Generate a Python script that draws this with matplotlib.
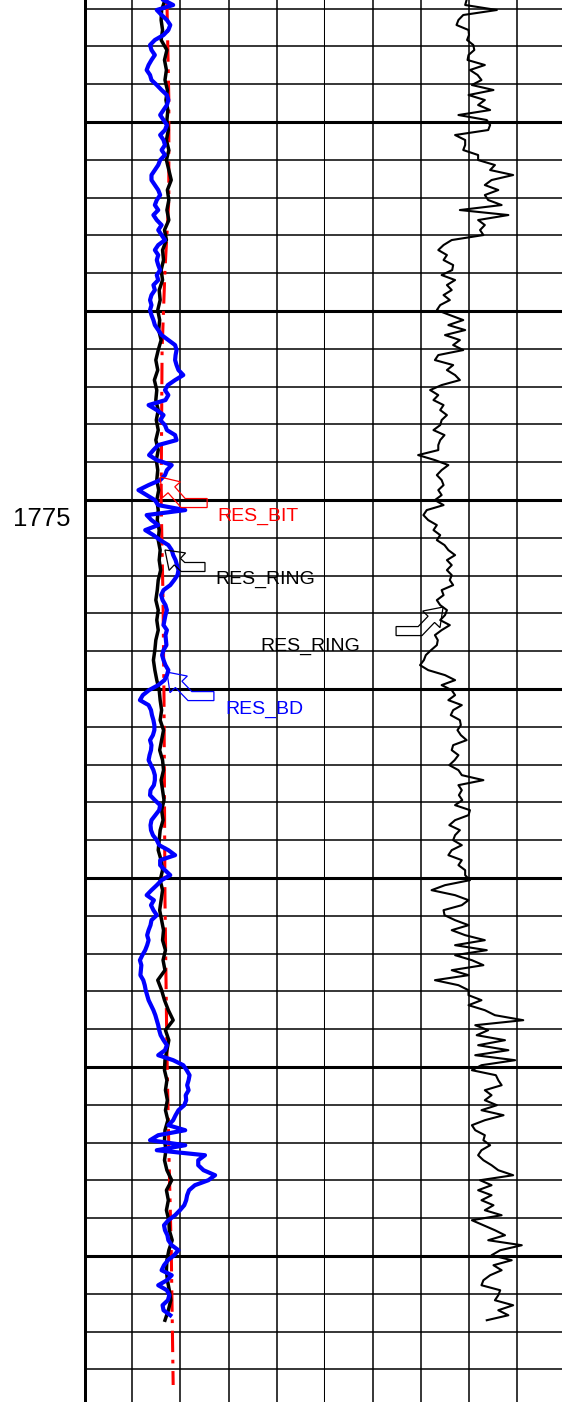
import numpy as np
import matplotlib
matplotlib.use("Agg")
import matplotlib.pyplot as plt
from matplotlib.patches import Polygon
from matplotlib import transforms as mtransforms

plt.rcParams["font.family"] = ["Liberation Sans", "DejaVu Sans"]

# depth window of the print (m) and log sampling
TOP_DEPTH = 1761.77
BOTTOM_DEPTH = 1798.86
SAMPLE_STEP = 0.1323
DEPTH_LABEL = 1775

# track 1: bit resistivity (dash-dot), ring resistivity, deep button resistivity
RES_BD = [
    16.5, 18.5, 15.1, 16.1, 17.2, 17.9, 17.5, 16.5, 14.7, 13.7,
    14.0, 14.7, 14.0, 13.4, 13.0, 13.7, 14.0, 15.1, 16.1, 17.2,
    17.5, 17.2, 16.5, 15.8, 16.5, 17.2, 16.8, 15.8, 16.5, 16.8,
    16.1, 16.8, 15.8, 15.4, 14.7, 14.0, 14.0, 14.7, 15.4, 15.8,
    15.1, 14.7, 15.4, 14.4, 15.1, 16.1, 15.4, 16.1, 16.8, 15.4,
    14.7, 15.4, 15.1, 15.4, 15.8, 15.1, 15.4, 14.4, 14.7, 14.0,
    13.7, 14.0, 13.7, 14.0, 14.4, 14.7, 15.4, 16.1, 17.5, 18.9,
    19.2, 19.0, 18.9, 19.2, 19.6, 20.6, 18.9, 17.4, 16.8, 17.5,
    16.9, 13.4, 15.1, 16.5, 15.8, 16.8, 17.2, 18.9, 19.2, 15.4,
    14.4, 13.5, 15.1, 18.2, 17.2, 16.8, 15.8, 13.4, 11.3, 13.0,
    14.7, 15.4, 21.0, 13.0, 14.0, 15.4, 12.7, 14.4, 15.8, 17.5,
    18.2, 18.5, 19.0, 19.3, 19.6, 19.4, 18.7, 17.9, 16.5, 16.0,
    16.3, 16.9, 17.2, 16.9, 16.7, 16.5, 17.2, 16.9, 17.0, 17.1,
    16.5, 16.2, 16.5, 16.9, 17.5, 17.2, 16.7, 15.4, 13.5, 12.2,
    11.6, 13.4, 13.9, 14.1, 14.4, 14.6, 14.6, 14.3, 13.7, 14.0,
    13.9, 13.6, 13.4, 13.9, 14.4, 14.7, 14.7, 14.5, 13.8, 13.7,
    14.7, 15.8, 15.6, 14.8, 14.0, 13.8, 13.9, 14.3, 15.1, 15.6,
    17.5, 18.9, 15.8, 15.8, 16.8, 17.9, 16.1, 15.1, 14.0, 13.0,
    14.5, 13.9, 14.4, 15.1, 14.0, 13.8, 13.4, 13.1, 13.4, 13.1,
    12.7, 12.1, 11.6, 11.9, 11.8, 11.7, 12.3, 12.6, 12.8, 13.1,
    13.4, 13.9, 14.4, 14.8, 15.1, 15.4, 15.6, 15.9, 16.5, 17.2,
    16.8, 15.4, 18.5, 20.6, 21.3, 21.9, 21.7, 21.4, 21.7, 21.1,
    21.2, 20.8, 19.6, 19.0, 18.5, 17.5, 21.0, 15.4, 13.7, 21.0,
    15.1, 25.1, 23.7, 23.7, 24.8, 27.2, 25.8, 23.0, 21.8, 21.4,
    21.2, 20.8, 19.9, 18.9, 17.5, 16.6, 16.8, 17.3, 17.5, 18.2,
    19.6, 18.7, 17.4, 16.6, 16.1, 18.2, 17.2, 15.4, 17.2, 17.7,
    17.4, 16.3, 16.5, 17.9,
]

RES_RING = [
    16.8, 16.1, 16.0, 16.3, 16.0, 17.2, 16.7, 17.1, 16.8, 17.3,
    17.0, 17.4, 17.2, 17.5, 17.1, 17.6, 17.1, 17.6, 18.1, 17.3,
    17.6, 17.2, 17.6, 16.7, 17.1, 16.3, 16.5, 16.0, 16.3, 15.6,
    15.8, 15.3, 15.7, 15.5, 16.0,
    15.4, 14.9, 15.3, 14.6, 15.1, 14.9, 15.4, 15.0, 15.4, 14.9,
    15.4, 15.0, 15.3, 15.1, 15.5, 15.1, 15.4, 15.2, 15.6, 15.4,
    15.8, 15.6, 15.9, 15.4, 15.2, 14.9, 15.4, 15.1, 15.4, 14.9,
    14.7, 14.4, 14.7, 15.1, 15.6,
    15.8, 16.1, 15.8, 16.5, 16.1, 15.7, 16.3, 16.5, 16.0, 16.3,
    16.6, 16.1, 16.4, 15.8, 15.6, 15.4, 16.0, 16.3, 15.8, 16.3,
    16.0, 15.7, 16.1, 16.5, 16.3, 16.9, 16.4, 16.8, 15.3, 16.1,
    16.7, 17.5, 18.5, 16.9, 17.6,
    17.2, 16.8, 16.7, 17.2, 16.9, 17.3, 16.9, 17.4, 16.8, 16.7,
    17.0, 16.7, 17.2, 18.2, 17.1, 17.5, 17.1, 17.6, 17.7, 18.3,
    17.6, 17.2, 17.1, 17.3, 17.7, 18.0, 17.5, 16.8,
]
RING_STEP = 2 * SAMPLE_STEP

RES_BIT_DEPTH = [1761.77, 1764.42, 1767.06, 1768.91, 1771.03, 1775.0, 1777.64,
                 1780.29, 1785.58, 1789.55, 1792.19, 1794.84, 1798.41]
RES_BIT = [17.2, 17.6, 17.6, 16.8, 16.2, 16.0, 16.4, 16.6, 16.8, 17.2, 17.6, 18.1, 18.5]

# track 2: ring resistivity on its own scale
RES_RING_T2 = [
    29.5, 29.2, 35.8, 28.8, 27.8, 27.4, 29.9, 30.0, 29.6, 30.9,
    31.1, 29.9, 29.7, 33.3, 30.2, 31.8, 32.6, 30.6, 35.1, 29.9,
    33.3, 31.9, 34.4, 27.8, 33.7, 34.4, 34.0, 27.1, 29.2, 29.2,
    28.8, 31.9, 31.9, 35.4, 34.4, 39.2, 34.7, 33.3, 36.1, 33.3,
    34.0, 36.8, 28.1, 38.2, 31.9, 33.3, 32.3, 33.0, 26.4, 24.7,
    23.6, 25.4, 24.7, 26.7, 26.5, 24.3, 27.1, 25.4, 26.4, 24.7,
    26.0, 24.0, 23.3, 26.0, 28.8, 25.7, 29.2, 25.0, 28.1, 26.7,
    28.8, 23.6, 22.9, 26.7, 25.4, 27.1, 28.1, 24.3, 21.9, 23.6,
    22.6, 24.7, 24.0, 25.4, 24.3, 24.0, 22.6, 24.9, 24.0, 23.6,
    23.6, 19.4, 22.9, 25.7, 24.3, 23.3, 24.3, 24.7, 23.6, 24.3,
    22.9, 24.7, 21.2, 20.5, 21.5, 23.3, 22.6, 24.0, 23.3, 24.9,
    25.7, 27.1, 25.4, 26.4, 25.4, 26.4, 26.0, 26.7, 24.3, 24.7,
    23.3, 24.0, 25.4, 25.0, 24.0, 26.0, 24.3, 22.9, 23.5, 23.3,
    22.1, 21.0, 20.6, 19.8, 21.5, 25.0, 27.1, 24.3, 26.4, 27.1,
    25.7, 28.5, 26.7, 26.2, 28.1, 28.3, 27.6, 28.3, 29.5, 26.7,
    26.4, 27.8, 27.0, 25.9, 27.8, 28.5, 33.0, 27.8, 28.5, 27.9,
    28.6, 27.1, 30.2, 29.9, 27.1, 25.9, 28.1, 27.1, 26.7, 28.5,
    26.4, 25.7, 28.5, 27.8, 29.2, 29.2, 30.2, 25.0, 22.2, 27.1,
    29.9, 28.5, 24.7, 24.9, 27.1, 29.9, 26.4, 29.2, 33.3, 27.1,
    33.7, 27.1, 30.6, 33.0, 26.4, 29.9, 22.9, 27.8, 29.9, 29.9,
    32.6, 29.9, 33.3, 35.4, 41.3, 31.3, 34.0, 31.6, 37.5, 31.9,
    38.2, 31.3, 39.6, 32.6, 30.6, 35.6, 36.1, 36.8, 33.3, 34.7,
    33.3, 35.8, 32.6, 37.2, 33.3, 30.6, 31.3, 33.3, 33.0, 34.4,
    32.6, 31.9, 33.0, 34.7, 36.1, 39.2, 32.3, 34.7, 31.9, 34.7,
    32.6, 35.1, 33.3, 36.8, 30.6, 33.0, 35.4, 37.5, 34.0, 41.0,
    36.5, 34.7, 38.9, 35.1, 36.8, 34.4, 33.0, 32.6, 36.5, 36.1,
    35.4, 39.2, 36.1, 38.2, 33.7,
]

# curve name callouts: (text, track, tip value, tip depth, label value, label depth, colour, bend, tail)
CALLOUTS = [
    ("RES_BIT", 1, 15.8, 1774.39, 27.6, 1775.42, "#ff0000", (23, -26), (47, -26)),
    ("RES_RING", 1, 16.8, 1776.32, 27.2, 1777.11, "#000000", (18, -17), (40, -17)),
    ("RES_RING", 2, 24.6, 1777.83, -13.5, 1778.86, "#000000", (-23, -24), (-47, -24)),
    ("RES_BD", 1, 17.2, 1779.55, 29.3, 1780.55, "#0000ff", (23, -24), (47, -24)),
]


def block_arrow(ax, x, y, bend, tail, color, shaft=9.0, head=24.0, head_len=17.0):
    """Outlined bent block arrow, tip at data point (x, y), shape in pixels."""
    T = np.array([0.0, 0.0])
    E = np.array(bend, float)
    S = np.array(tail, float)
    d1 = (T - E) / np.linalg.norm(T - E)
    n1 = np.array([-d1[1], d1[0]])
    d2 = (E - S) / np.linalg.norm(E - S)
    n2 = np.array([-d2[1], d2[0]])
    B = T - d1 * head_len
    h = shaft / 2
    nb = (n1 + n2) / np.linalg.norm(n1 + n2)
    m = h / np.dot(nb, n1)
    pts = [T, B + n1 * head / 2, B + n1 * h, E + nb * m, S + n2 * h,
           S - n2 * h, E - nb * m, B - n1 * h, B - n1 * head / 2]
    fig = ax.figure
    tr = mtransforms.Affine2D().scale(fig.dpi / 100) + mtransforms.ScaledTranslation(x, y, ax.transData)
    poly = Polygon(pts, closed=True, fill=False, edgecolor=color, lw=0.9,
                   transform=tr, clip_on=False, zorder=6)
    ax.add_patch(poly)


fig = plt.figure(figsize=(5.62, 14.02), dpi=100)
ax1 = fig.add_axes([84 / 562, 0, 241 / 562, 1])
ax2 = fig.add_axes([325 / 562, 0, 240 / 562, 1])

for k, ax in enumerate((ax1, ax2)):
    ax.set_xlim(0, 50)
    ax.set_ylim(BOTTOM_DEPTH, TOP_DEPTH)
    ax.axis("off")
    for d in range(int(np.ceil(TOP_DEPTH)), int(BOTTOM_DEPTH) + 1):
        ax.axhline(d, color="black", lw=2.2 if d % 5 == 0 else 1.1, zorder=1)
    for v in range(0, 51, 10):
        if k == 1 and v == 0:
            continue
        if k == 0 and v == 0:
            lw = 3.6
        elif v == 50:
            lw = 2.2
        else:
            lw = 1.1
        ax.axvline(v, color="black", lw=lw, zorder=1)

depth_bd = TOP_DEPTH + SAMPLE_STEP * np.arange(len(RES_BD))
depth_ring = TOP_DEPTH + RING_STEP * np.arange(len(RES_RING))
depth_t2 = TOP_DEPTH + SAMPLE_STEP * np.arange(len(RES_RING_T2))

ax1.plot(RES_BIT, RES_BIT_DEPTH, color="#ff0000", lw=2.2,
         ls=(0, (7, 2.5, 1.2, 2.5)), zorder=2)
ax1.plot(RES_RING, depth_ring, color="black", lw=2.5, zorder=3,
         solid_joinstyle="round")
ax1.plot(RES_BD, depth_bd, color="#0000ff", lw=3.0, zorder=4,
         solid_joinstyle="round")
ax2.plot(RES_RING_T2, depth_t2, color="black", lw=1.5, zorder=3)

ax1.text(-0.174, DEPTH_LABEL + 0.5, str(DEPTH_LABEL), transform=ax1.get_yaxis_transform(),
         ha="center", va="center", fontsize=18.5, color="black", clip_on=False)

for text, track, tx, ty, lx, ly, color, bend, tail in CALLOUTS:
    ax = ax1 if track == 1 else ax2
    block_arrow(ax, tx, ty, bend, tail, color)
    ax.text(lx, ly, text, ha="left", va="center", fontsize=14, color=color,
            clip_on=False, zorder=7)

fig.savefig("out.png", dpi=100)
